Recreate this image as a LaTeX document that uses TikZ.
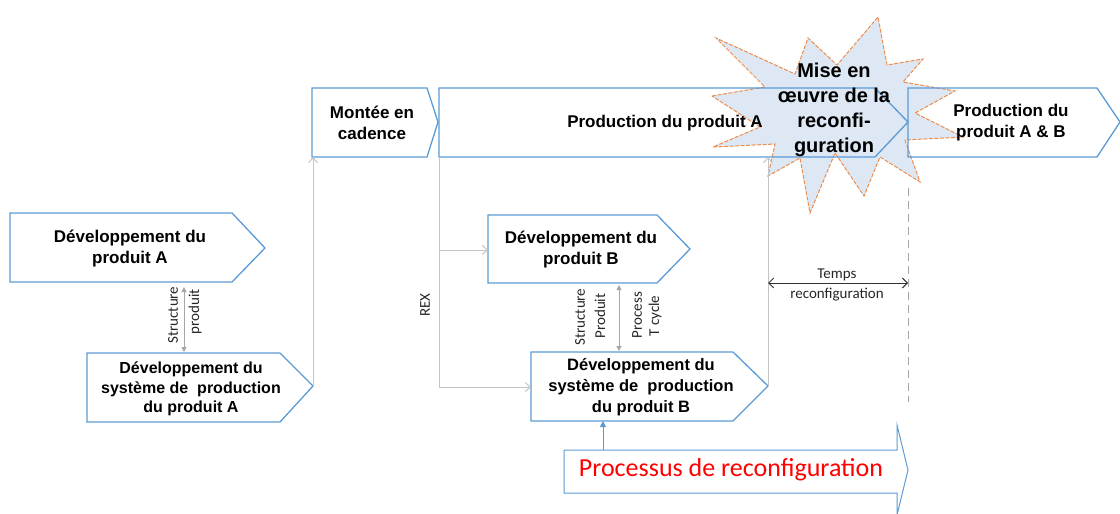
\documentclass[tikz,border=0pt]{standalone}
\usepackage{fontspec}
\setmainfont{Liberation Sans}
\newfontfamily\calfont{Carlito}
\usetikzlibrary{arrows.meta}
\definecolor{boxblue}{HTML}{5B9BD5}
\definecolor{linegray}{HTML}{C4C4C4}
\definecolor{darkgray}{HTML}{A6A6A6}
\definecolor{starfill}{HTML}{DDE8F4}
\definecolor{starline}{HTML}{ED8D4E}
\definecolor{redtxt}{HTML}{FF0000}
\begin{document}
\begin{tikzpicture}[x=1pt,y=-1pt,
  boxline/.style={draw=boxblue, line width=1.3pt, line join=miter},
  boxfill/.style={fill=white},
  boxtext/.style={font=\bfseries\fontsize{17}{21}\selectfont, align=center, inner sep=0pt},
  startext/.style={font=\bfseries\fontsize{20}{25}\selectfont, align=center, inner sep=0pt},
  smalltext/.style={font=\calfont\fontsize{15}{20}\selectfont, align=center, inner sep=0pt, text=black!85},
  conn/.style={draw=linegray, line width=1pt, -{Straight Barb[length=5pt,width=9pt]}},
  bothtri/.style={draw=darkgray, line width=1pt, {Triangle[length=5pt,width=5pt]}-{Triangle[length=5pt,width=5pt]}},
]
\useasboundingbox (0,0) rectangle (1120,514);

% shape outlines (filled first)
\def\devA{(10,213) -- (232,213) -- (265,248) -- (232,282) -- (10,282) -- cycle}
\def\sysA{(87,353) -- (280,353) -- (313,386) -- (280,422) -- (87,422) -- cycle}
\def\montee{(312,88) -- (427,88) -- (438,122) -- (427,157) -- (312,157) -- cycle}
\def\prodA{(439,88) -- (875,88) -- (908,122) -- (875,157) -- (439,157) -- cycle}
\def\prodAB{(908,88) -- (1097,88) -- (1120,122) -- (1097,157) -- (908,157) -- cycle}
\def\devB{(488,215) -- (657,215) -- (690,249) -- (657,283) -- (488,283) -- cycle}
\def\sysB{(531,352) -- (733,352) -- (768,386) -- (733,421) -- (531,421) -- cycle}
\def\proc{(564,450) -- (897,450) -- (897,425) -- (908,470) -- (897,515) -- (897,493) -- (564,493) -- cycle}

\fill[white] \prodA;
\fill[white] \prodAB;

% starburst
\path[fill=starfill, draw=starline, line width=1pt, dash pattern=on 4pt off 1.5pt]
  (712,96) -- (765,87) -- (716,38) -- (795,74) -- (808,38) -- (837,65) -- (878,17) -- (887,65)
  -- (923,59) -- (903,82) -- (955,91) -- (915,113) -- (963,137) -- (905,140) -- (920,182)
  -- (880,157) -- (864,196) -- (835,153) -- (810,213) -- (800,158) -- (768,176) -- (775,144)
  -- (713,147) -- (760,127) -- cycle;

\path[boxline] \devA;
\path[boxline] \sysA;
\path[boxline] \montee;
\path[boxline] \prodA;
\path[boxline] \prodAB;
\path[boxline] \devB;
\path[boxline] \sysB;
\path[boxline, line width=1pt] \proc;

% named ports
\coordinate (sysAtip) at (313,386);
\coordinate (monteeSW) at (313,157);
\coordinate (prodASW) at (439,157);
\coordinate (rexbranch) at (439,250);
\coordinate (devBW) at (488,250);
\coordinate (sysBW) at (531,387);
\coordinate (sysBtip) at (768,386);
\coordinate (prodAS) at (768,157);
\coordinate (devAS) at (184,287);
\coordinate (sysAN) at (184,352);
\coordinate (devBS) at (619,285);
\coordinate (sysBN) at (619,351);
\coordinate (procN) at (603,450);
\coordinate (sysBS) at (603,421);
\coordinate (tempsL) at (768,283);
\coordinate (tempsR) at (908,283);
\coordinate (dashTop) at (908,188);
\coordinate (dashBot) at (908,402);

% connectors
\draw[conn] (sysAtip) -- (monteeSW);
\draw[conn] (prodASW) |- (sysBW);
\draw[conn] (rexbranch) -- (devBW);
\draw[conn] (sysBtip) -- (prodAS);
\draw[bothtri] (devAS) -- (sysAN);
\draw[bothtri] (devBS) -- (sysBN);
\draw[draw=boxblue, line width=1pt, -{Triangle[length=6pt,width=6pt]}] (procN) -- (sysBS);
\draw[draw=black!80, line width=0.9pt, {Straight Barb[length=5pt,width=10pt]}-{Straight Barb[length=5pt,width=10pt]}] (tempsL) -- (tempsR);
\draw[draw=darkgray, line width=1pt, dash pattern=on 8pt off 5pt] (dashTop) -- (dashBot);

% texts
\node[boxtext] (tdevA) at (130,249) {Développement du\\produit A};
\node[boxtext, font=\bfseries\fontsize{16}{19.5}\selectfont] (tsysA) at (191,389) {Développement du\\système de~ production\\du produit A};
\node[boxtext] (tmontee) at (372,123) {Montée en\\cadence};
\node[boxtext] (tprodA) at (665,123) {Production du produit A};
\node[boxtext] (tprodAB) at (1011,123) {Production du\\produit A \& B};
\node[boxtext] (tdevB) at (581,250) {Développement du\\produit B};
\node[boxtext, font=\bfseries\fontsize{16.5}{21}\selectfont] (tsysB) at (641,387) {Développement du\\système de~ production\\du produit B};
\node[startext] (tstar) at (834,110) {Mise en\\œuvre de la\\reconfi-\\guration};
\node[font=\calfont\fontsize{26}{30}\selectfont, text=redtxt, inner sep=0pt] (tproc) at (731,470) {Processus de reconfiguration};
\node[smalltext] (ttemps) at (837,285) {Temps\\reconfiguration};
\node[smalltext, rotate=90] (trex) at (425,305) {REX};
\node[smalltext, rotate=90] (tstrA) at (173,315) {Structure};
\node[smalltext, rotate=90] (tprA) at (195,312) {produit};
\node[smalltext, rotate=90] (tstrB) at (580,317) {Structure};
\node[smalltext, rotate=90] (tprB) at (600,316) {Produit};
\node[smalltext, rotate=90] (tpcB) at (637,315) {Process};
\node[smalltext, rotate=90] (ttcB) at (655,316) {T cycle};
\end{tikzpicture}
\end{document}
